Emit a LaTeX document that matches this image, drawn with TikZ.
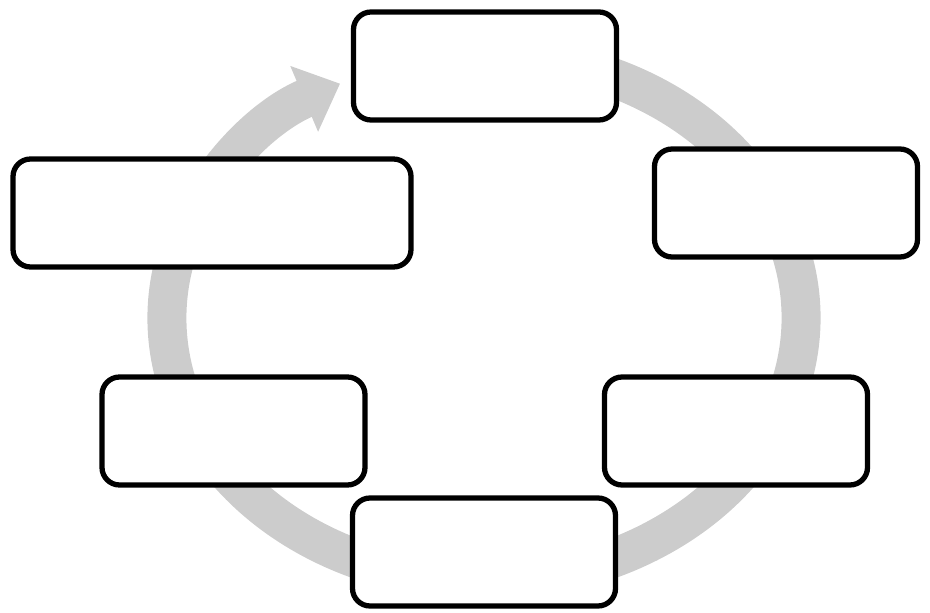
\documentclass[tikz,border=0pt]{standalone}
\usetikzlibrary{arrows.meta}

\tikzset{
  stagebox/.style={draw=black,line width=3pt,rounded corners=10pt,fill=white,
    minimum width=5.26cm,minimum height=2.16cm,inner sep=0pt},
  cycleband/.style={line width=0.78cm,draw=gray!40,
    -{Triangle[width=1.38cm,length=0.78cm]}}
}

\begin{document}
\begin{tikzpicture}
  \useasboundingbox (0,0) rectangle (18.6,12.24);
  % cycle band behind the boxes
  \draw[cycleband] (9.68,5.88) ++(75:6.34cm and 5.26cm)
    arc[start angle=75,end angle=-243,x radius=6.34cm,y radius=5.26cm];
  % stages
  \node[stagebox] (stagetop) at (9.7,10.92) {};
  \node[stagebox] (stageupright) at (15.72,8.18) {};
  \node[stagebox,minimum width=7.96cm] (stageupleft) at (4.24,7.98) {};
  \node[stagebox] (stagelowleft) at (4.67,3.62) {};
  \node[stagebox] (stagelowright) at (14.72,3.62) {};
  \node[stagebox] (stagebottom) at (9.68,1.2) {};
\end{tikzpicture}
\end{document}
